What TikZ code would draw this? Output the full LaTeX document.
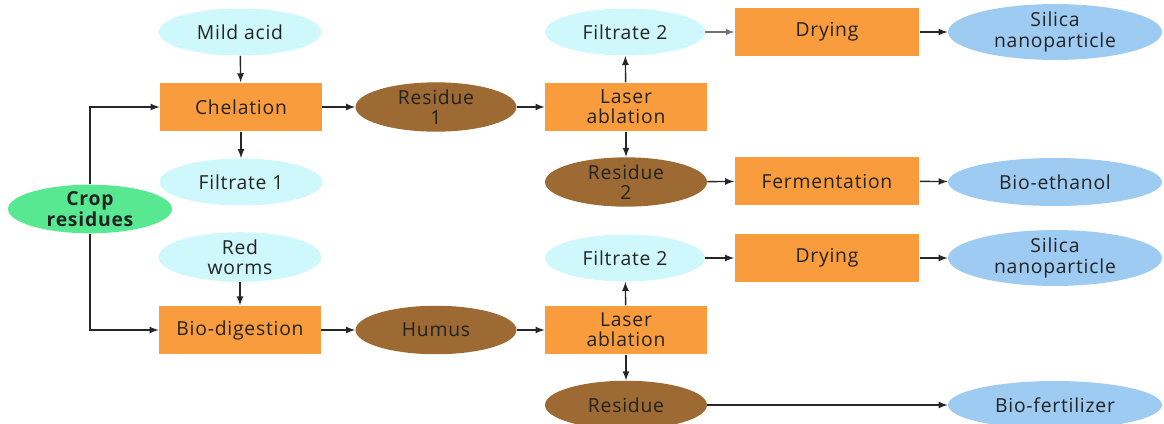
\documentclass[tikz,border=0pt]{standalone}
\usepackage{fontspec}
\setmainfont{Open Sans}[LetterSpace=4]
\usetikzlibrary{shapes.geometric}
\definecolor{inputcyan}{RGB}{206,248,251}
\definecolor{procorange}{RGB}{248,156,62}
\definecolor{residbrown}{RGB}{156,106,50}
\definecolor{prodblue}{RGB}{158,203,242}
\definecolor{cropgreen}{RGB}{88,232,146}
\definecolor{txt}{RGB}{35,35,35}

\begin{document}
\begin{tikzpicture}[
    x=0.02cm, y=-0.02cm,
    every node/.style={font=\fontsize{11}{11.5}\selectfont, text=txt, align=center, inner sep=0pt},
    proc/.style={rectangle, fill=procorange, minimum width=3.24cm, minimum height=0.97cm},
    wideproc/.style={proc, minimum width=3.7cm},
    feed/.style={ellipse, fill=inputcyan, minimum width=3.26cm, minimum height=0.94cm},
    resid/.style={ellipse, fill=residbrown, minimum width=3.22cm, minimum height=0.97cm},
    prod/.style={ellipse, fill=prodblue, minimum width=4.28cm, minimum height=0.96cm},
    arr/.style={->, >=latex, thick, black!85}
]
\clip (0,0) rectangle (1164,423);

% Start
\node[ellipse, fill=cropgreen, minimum width=3.28cm, minimum height=0.94cm, font=\fontsize{11}{11.5}\selectfont\bfseries] (crop) at (90,209) {Crop\\residues};

% Chelation route
\node[feed] (mild) at (240,32) {Mild acid};
\node[proc] (chel) at (241,107) {Chelation};
\node[feed] (filt1) at (241,182) {Filtrate 1};
\node[resid] (res1) at (436,107) {Residue\\1};
\node[proc] (laser1) at (626,107) {Laser\\ablation};
\node[feed, minimum width=3.2cm] (filt2a) at (625,32) {Filtrate 2};
\node[resid, minimum width=3.24cm] (res2) at (626,182) {Residue\\2};
\node[wideproc] (dry1) at (827,32) {Drying};
\node[wideproc] (ferm) at (827,181) {Fermentation};
\node[prod] (silica1) at (1055,32) {Silica\\nanoparticle};
\node[prod] (ethanol) at (1055,182) {Bio-ethanol};

% Bio-digestion route
\node[feed] (worms) at (240,257) {Red\\worms};
\node[proc] (biodig) at (240,330) {Bio-digestion};
\node[resid] (humus) at (436,330) {Humus};
\node[proc] (laser2) at (626,330) {Laser\\ablation};
\node[feed, minimum width=3.2cm] (filt2b) at (625,258) {Filtrate 2};
\node[resid, minimum width=3.24cm] (res3) at (626,405) {Residue};
\node[wideproc] (dry2) at (827,258) {Drying};
\node[prod] (silica2) at (1055,258) {Silica\\nanoparticle};
\node[prod] (fert) at (1055,405) {Bio-fertilizer};

% Arrows
\draw[arr] (crop.north) |- (chel.west);
\draw[arr] (crop.south) |- (biodig.west);
\draw[arr] (mild) -- (chel);
\draw[arr] (chel) -- (filt1);
\draw[arr] (chel) -- (res1);
\draw[arr] (res1) -- (laser1);
\draw[arr] (laser1) -- (filt2a);
\draw[arr] (laser1) -- (res2);
\draw[arr, semithick, black!55] (filt2a) -- (dry1);
\draw[arr] (dry1) -- (silica1);
\draw[arr] (res2) -- (ferm);
\draw[arr] (ferm) -- (ethanol);
\draw[arr] (worms) -- (biodig);
\draw[arr] (biodig) -- (humus);
\draw[arr] (humus) -- (laser2);
\draw[arr] (laser2) -- (filt2b);
\draw[arr] (laser2) -- (res3);
\draw[arr] (filt2b) -- (dry2);
\draw[arr] (dry2) -- (silica2);
\draw[arr] (res3) -- (fert);
\end{tikzpicture}
\end{document}
